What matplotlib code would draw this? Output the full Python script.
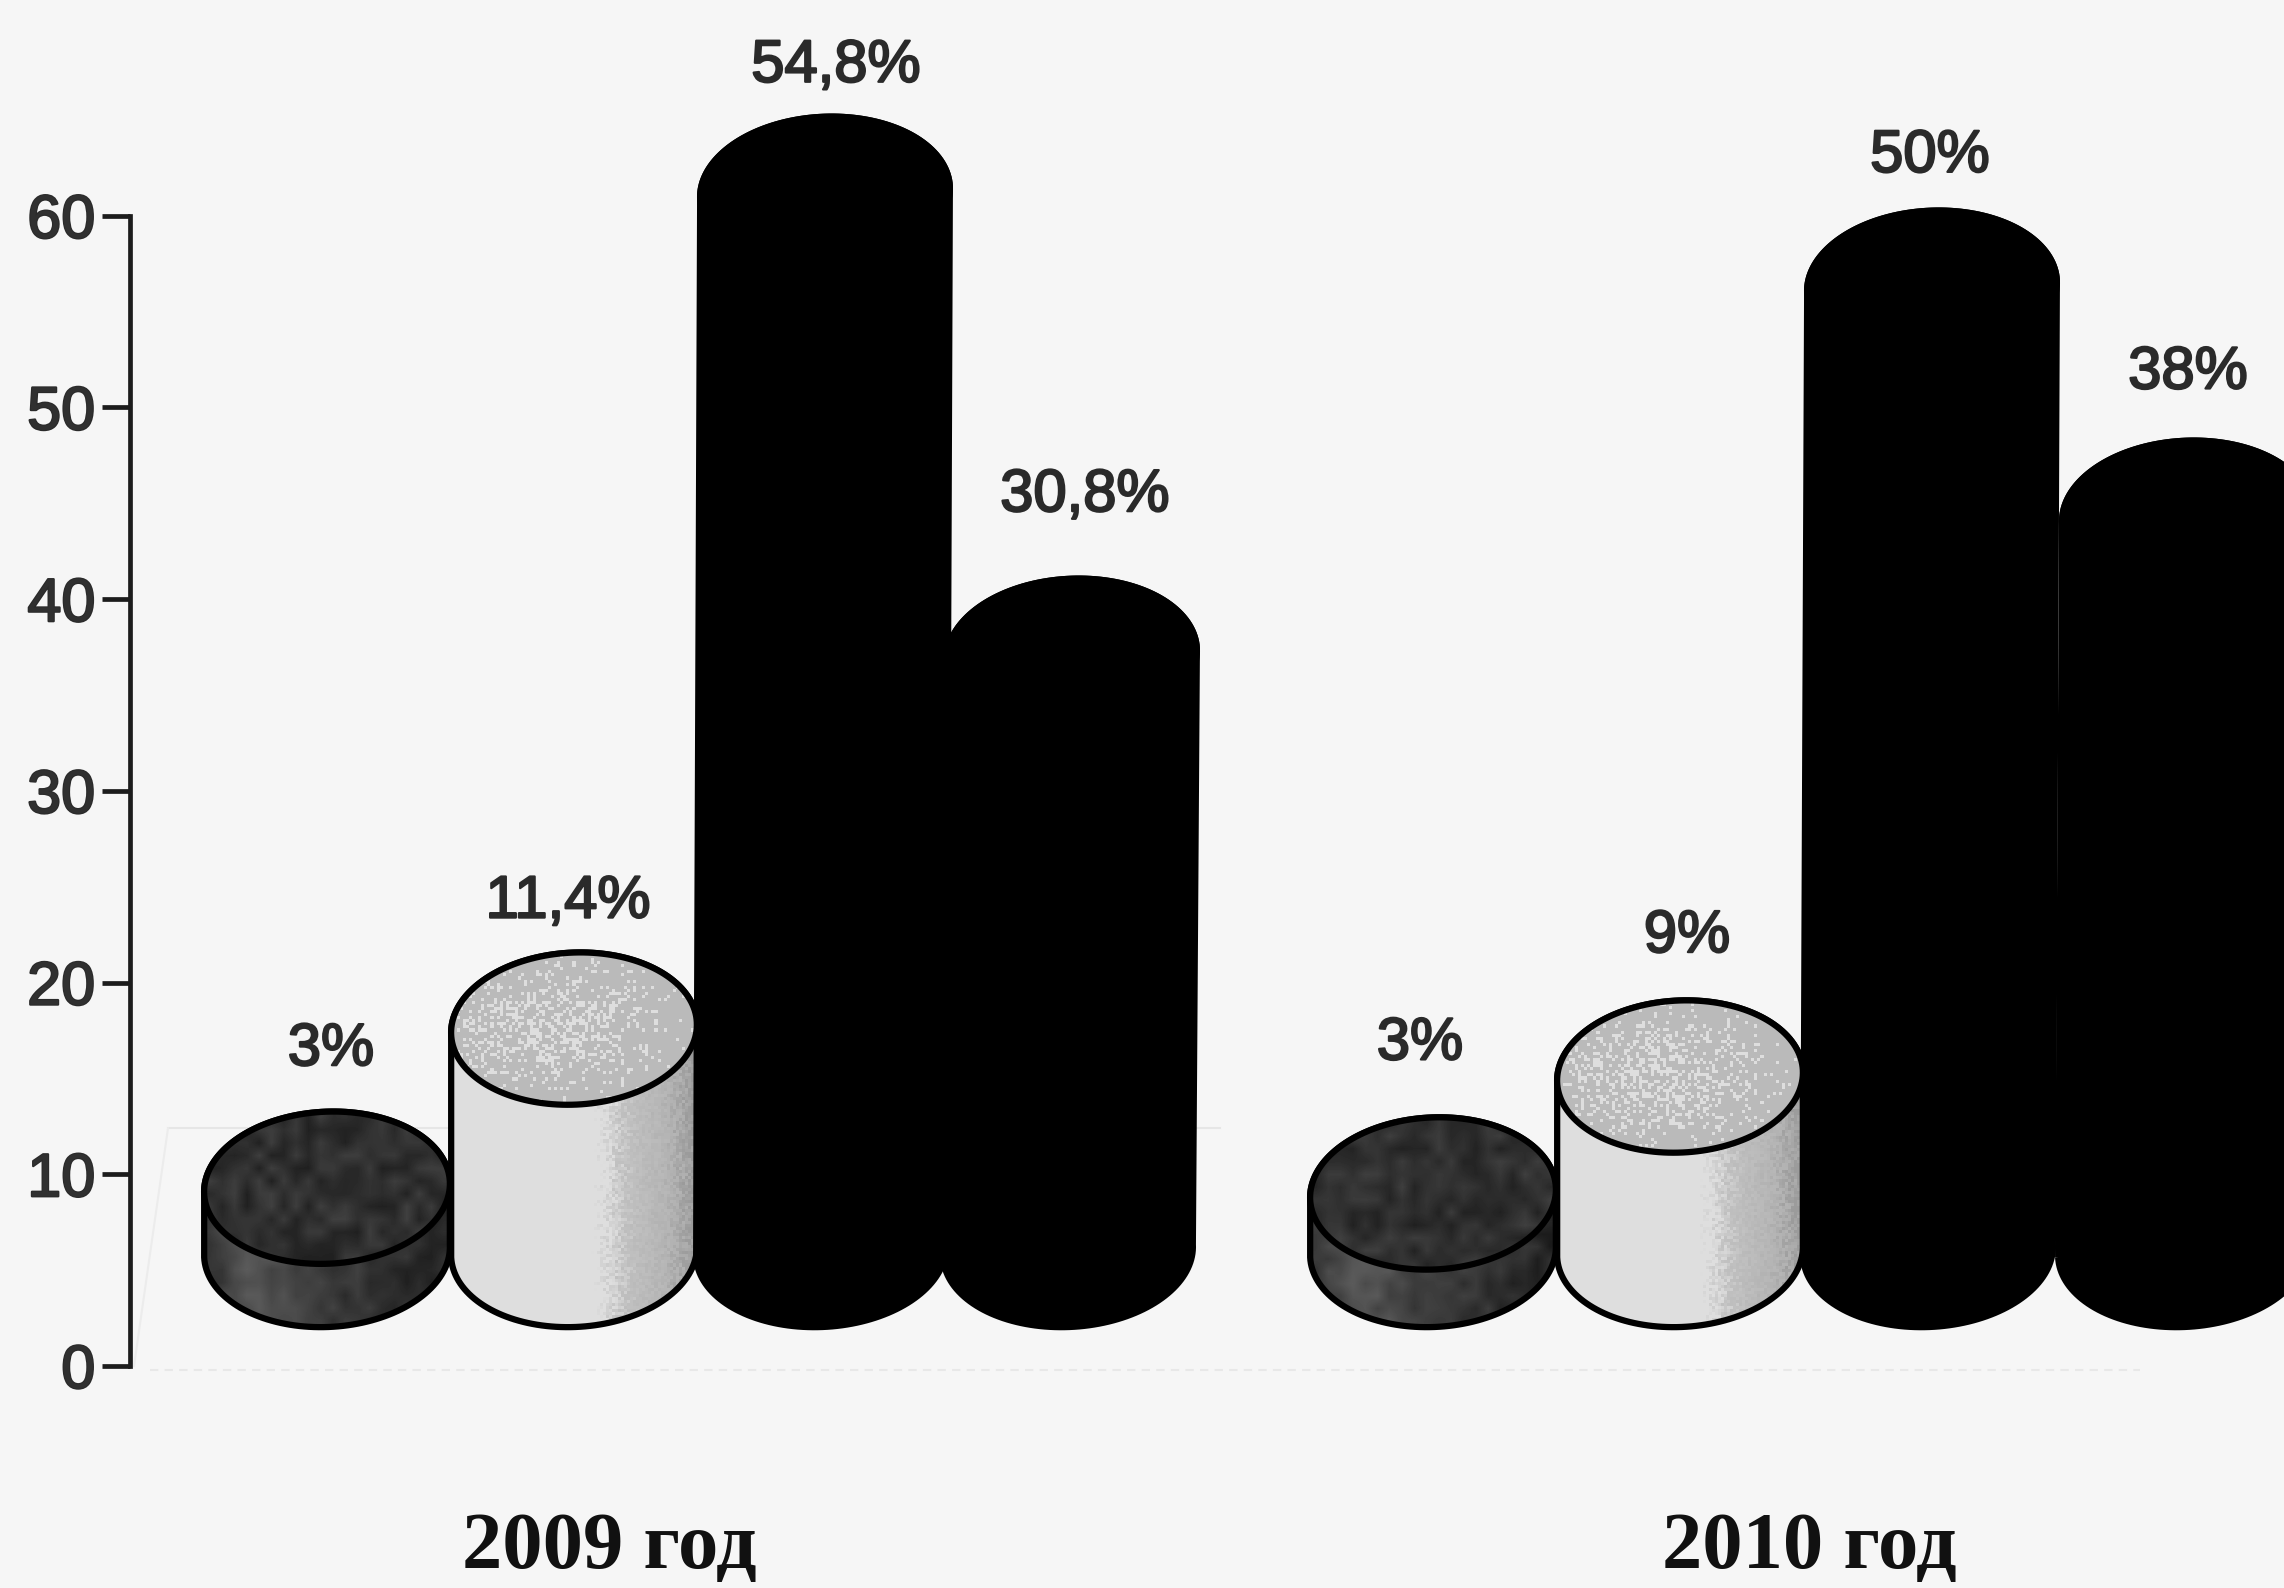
import numpy as np
import matplotlib
matplotlib.use('Agg')
import matplotlib.pyplot as plt
import matplotlib.patheffects as pe
from matplotlib.patches import Polygon

years = ['2009 год', '2010 год']
labels_2009 = ['3%', '11,4%', '54,8%', '30,8%']
labels_2010 = ['3%', '9%', '50%', '38%']
# heights as drawn against the axis, not the printed percentages
tops_2009 = [9.3, 17.6, 61.2, 37.1]
tops_2010 = [9.0, 15.1, 56.3, 44.3]
bottom_level = 6.0
yticks = [0, 10, 20, 30, 40, 50, 60]

# layout, in figure pixels
centers_2009 = [327, 574, 825, 1072]
centers_2010 = [1433, 1680, 1932, 2187]
label_x_2009 = [331, 568, 836, 1085]
label_x_2010 = [1420, 1687, 1930, 2188]
label_gap_2009 = [7.2, 6.6, 6.6, 8.3]
label_gap_2010 = [7.8, 7.3, 6.8, 7.5]
year_x = [609, 1809]
foot_shift = [0, 0, 4, 4]

W, H = 2284, 1588
PX = 19.17   # pixels per axis unit
Y0 = 1366    # pixel row of value 0
HALF_W = [123, 123, 125, 125]
HALF_H = 76
TILT = np.radians(3)


def ellipse_pts(cx, val, a, t):
    x = cx + a * np.cos(t) * np.cos(TILT) - HALF_H * np.sin(t) * np.sin(TILT)
    y = val + (a * np.cos(t) * np.sin(TILT) + HALF_H * np.sin(t) * np.cos(TILT)) / PX
    return np.column_stack([x, y])


def grain(w, h, seed):
    # print-screen look only, no chart values come from this
    X, Y = np.meshgrid(np.arange(w), np.arange(h))
    v = np.sin(X * 12.9898 + Y * 78.233 + seed) * 43758.5453
    return v - np.floor(v)


def tex_disk_side(w, h, seed):
    u = np.linspace(0, 1, w)[None, :]
    base = np.interp(u, [0, 0.2, 0.5, 1], [58, 84, 58, 38])
    return base + (grain(w, h, seed) - 0.5) * 26


def tex_disk_top(w, h, seed):
    return 48 + (grain(w, h, seed) - 0.5) * 32


def tex_light_side(w, h, seed):
    u = np.linspace(0, 1, w)[None, :] + (grain(w, h, seed) - 0.5) * 0.1
    return np.interp(u, [0, 0.62, 0.72, 0.9, 1], [222, 222, 192, 178, 155])


def tex_light_top(w, h, seed):
    u = np.linspace(0, 1, w)[None, :]
    v = np.linspace(0, 1, h)[:, None]
    p = 0.5 * np.exp(-((u - 0.42) ** 2 + (v - 0.5) ** 2) / 0.12)
    img = np.full((h, w), 186.0)
    img[grain(w, h, seed) < p] = 222
    return img


def tex_black(w, h, seed):
    return np.zeros((h, w))


# cell sizes in pixels for each texture, coarse ones get smoothed
side_tex = [(tex_disk_side, 12, 'bilinear'), (tex_light_side, 3, 'nearest'), (tex_black, 20, 'nearest'), (tex_black, 20, 'nearest')]
top_tex = [(tex_disk_top, 12, 'bilinear'), (tex_light_top, 3, 'nearest'), (tex_black, 20, 'nearest'), (tex_black, 20, 'nearest')]


def shaded(ax, pts, tex, z, seed):
    func, cell, interp = tex
    poly = Polygon(pts, closed=True, facecolor='none', edgecolor='#000000', lw=4.5, zorder=z + 0.5, joinstyle='round')
    ax.add_patch(poly)
    x0, x1 = pts[:, 0].min(), pts[:, 0].max()
    y0, y1 = pts[:, 1].min(), pts[:, 1].max()
    w = max(int((x1 - x0) / cell), 2)
    h = max(int((y1 - y0) * PX / cell), 2)
    im = ax.imshow(func(w, h, seed), cmap='gray', vmin=0, vmax=255, extent=[x0, x1, y0, y1],
                   aspect='auto', zorder=z, interpolation=interp)
    im.set_clip_path(poly)


def cylinder(ax, cx, top, i, z):
    a = HALF_W[i]
    lower = ellipse_pts(cx - foot_shift[i], bottom_level, a, np.linspace(np.pi, 2 * np.pi, 80))
    upper = ellipse_pts(cx, top, a, np.linspace(0, np.pi, 80))
    shaded(ax, np.vstack([lower, upper]), side_tex[i], z, cx * 0.01)
    lid = ellipse_pts(cx, top, a, np.linspace(0, 2 * np.pi, 160))
    shaded(ax, lid, top_tex[i], z + 1, cx * 0.02)


fig = plt.figure(figsize=(W / 100, H / 100), dpi=100, facecolor='#f6f6f6')
ax = fig.add_axes([0, 0, 1, 1], facecolor='#f6f6f6')

# faint back wall left in the scan
ax.plot([168, 1220], [12.4, 12.4], color='#e6e6e6', lw=1.5, zorder=1)
ax.plot([150, 2140], [-0.2, -0.2], color='#e8e8e8', lw=1.5, ls=(0, (4, 3)), zorder=1)
ax.plot([134, 168], [0, 12.4], color='#ececec', lw=1.5, zorder=1)

z = 3
for centers, tops in [(centers_2009, tops_2009), (centers_2010, tops_2010)]:
    for i in range(4):
        cylinder(ax, centers[i], tops[i], i, z)
        z += 2

stroke = [pe.withStroke(linewidth=1.6, foreground='#2a2a2a')]
for xs, tops, gaps, texts in [(label_x_2009, tops_2009, label_gap_2009, labels_2009),
                              (label_x_2010, tops_2010, label_gap_2010, labels_2010)]:
    for x, t, g, s in zip(xs, tops, gaps, texts):
        ax.text(x, t + g, s, ha='center', va='center', fontsize=43, family='Liberation Sans',
                color='#2a2a2a', zorder=40, path_effects=stroke)

for x, s in zip(year_x, years):
    ax.text(x, -9.5, s, ha='center', va='center', fontsize=58, fontweight='bold',
            family='Liberation Serif', color='#111111', zorder=40)

for side in ['top', 'right', 'bottom']:
    ax.spines[side].set_visible(False)
ax.spines['left'].set_position(('data', 130))
ax.spines['left'].set_bounds(0, 60)
ax.spines['left'].set_linewidth(3.4)
ax.spines['left'].set_color('#1c1c1c')

ax.set_xlim(0, W)
ax.set_ylim((Y0 - H) / PX, Y0 / PX)
ax.set_xticks([])
ax.set_yticks(yticks)
ax.tick_params(axis='y', direction='out', length=20, width=3.4, pad=5, color='#1c1c1c',
               labelcolor='#303030', labelsize=44)
for lab in ax.get_yticklabels():
    lab.set_family('Liberation Sans')
    lab.set_path_effects(stroke)

fig.savefig('out.png', dpi=100, facecolor=fig.get_facecolor())
